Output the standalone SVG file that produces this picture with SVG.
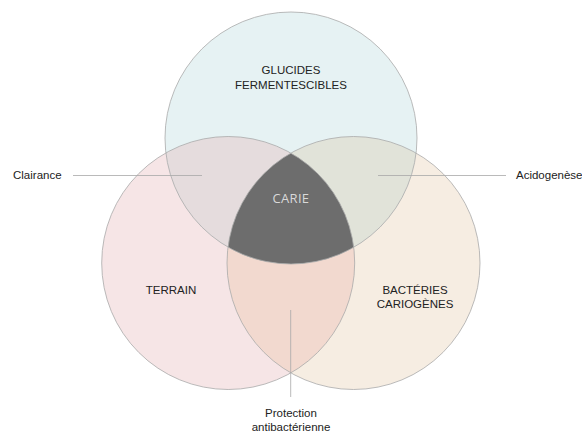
<svg xmlns="http://www.w3.org/2000/svg" width="582" height="437" viewBox="0 0 582 437">
<style>
.lbl{font-family:"Liberation Sans",Arial,sans-serif;font-size:11.5px;fill:#222;}
.mid{text-anchor:middle;}
.ring{fill:none;stroke:#a9a9a9;stroke-width:0.8;}
.conn{stroke:#a8a8a8;stroke-width:0.8;fill:none;}
</style>
<defs>
<clipPath id="clipL"><circle cx="228.2" cy="263" r="126.5"/></clipPath>
<clipPath id="clipR"><circle cx="353.5" cy="263" r="126.5"/></clipPath>
</defs>
<rect width="582" height="437" fill="#ffffff"/>
<g id="base-fills">
<circle cx="228.2" cy="263" r="126.5" fill="#f6e5e6"/>
<circle cx="353.5" cy="263" r="126.5" fill="#f6ede2"/>
<circle cx="291" cy="138" r="126" fill="#e6f2f3"/>
</g>
<g id="overlaps">
<g clip-path="url(#clipL)"><circle cx="353.5" cy="263" r="126.5" fill="#f2d9cf"/></g>
<g clip-path="url(#clipL)"><circle cx="291" cy="138" r="126" fill="#e5dcdd"/></g>
<g clip-path="url(#clipR)"><circle cx="291" cy="138" r="126" fill="#e1e3d9"/></g>
<g clip-path="url(#clipL)"><g clip-path="url(#clipR)"><circle cx="291" cy="138" r="126" fill="#6d6d6d"/></g></g>
</g>
<g id="outlines">
<circle class="ring" cx="228.2" cy="263" r="126.5"/>
<circle class="ring" cx="353.5" cy="263" r="126.5"/>
<circle class="ring" cx="291" cy="138" r="126"/>
</g>
<g id="connectors">
<line class="conn" x1="73" y1="175.5" x2="202" y2="175.5"/>
<line class="conn" x1="378" y1="175.5" x2="506" y2="175.5"/>
<line class="conn" x1="290.7" y1="310" x2="290.7" y2="397"/>
</g>
<g id="glucides">
<text class="lbl mid" x="291" y="74">GLUCIDES</text>
<text class="lbl mid" x="291" y="88.5">FERMENTESCIBLES</text>
</g>
<g id="terrain">
<text class="lbl mid" x="171" y="293.5">TERRAIN</text>
</g>
<g id="bacteries">
<text class="lbl mid" x="415" y="293.5">BACTÉRIES</text>
<text class="lbl mid" x="415" y="308">CARIOGÈNES</text>
</g>
<g id="carie">
<text x="291" y="203.3" text-anchor="middle" font-family="'Open Sans','Noto Sans',sans-serif" font-size="13" fill="#d9d9d9" letter-spacing="0.3">CARIE</text>
</g>
<g id="clairance">
<text class="lbl" x="13" y="178.5">Clairance</text>
</g>
<g id="acidogenese">
<text class="lbl" x="516" y="178.5">Acidogenèse</text>
</g>
<g id="protection">
<text class="lbl mid" x="291" y="417">Protection</text>
<text class="lbl mid" x="291" y="431">antibactérienne</text>
</g>
</svg>
